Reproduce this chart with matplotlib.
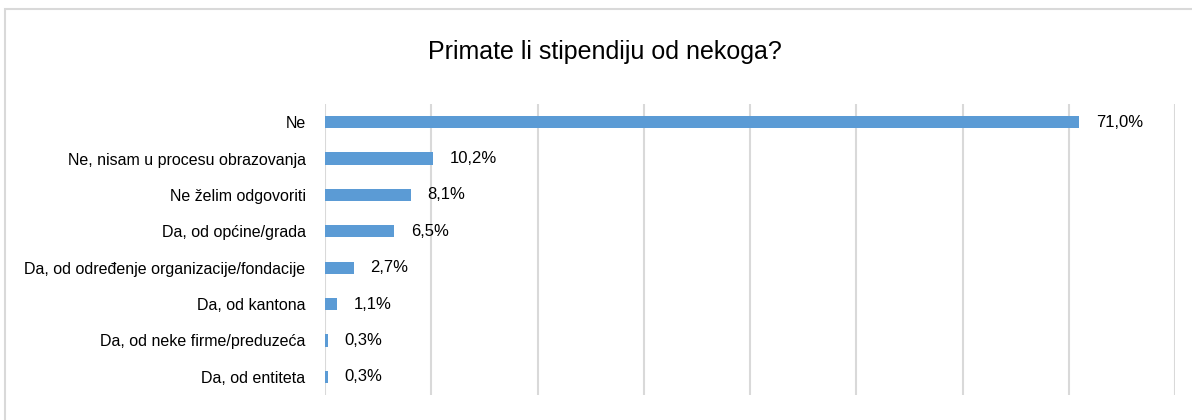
import matplotlib
matplotlib.use("Agg")
import matplotlib.pyplot as plt
from matplotlib.patches import Rectangle

# Data
categories = [
    "Ne",
    "Ne, nisam u procesu obrazovanja",
    "Ne želim odgovoriti",
    "Da, od općine/grada",
    "Da, od određenje organizacije/fondacije",
    "Da, od kantona",
    "Da, od neke firme/preduzeća",
    "Da, od entiteta",
]
values = [71.0, 10.2, 8.1, 6.5, 2.7, 1.1, 0.3, 0.3]
x_ticks = [0, 10, 20, 30, 40, 50, 60, 70, 80]

plt.rcParams["font.family"] = ["Liberation Sans", "DejaVu Sans"]

bar_col = "#5B9BD5"
grid_col = "#D9D9D9"

fig = plt.figure(figsize=(11.92, 4.2), dpi=100)
ax = fig.add_axes([325 / 1192, 25 / 420, 850 / 1192, 291 / 420])

y = list(range(len(categories)))
ax.barh(y, values, height=0.34, color=bar_col, zorder=3)
for yi, v in zip(y, values):
    ax.annotate(f"{v:.1f}%".replace(".", ","), (v, yi), xytext=(12, 0),
                textcoords="offset points", va="center", ha="left",
                fontsize=12, color="black")

ax.set_xlim(0, 80)
ax.set_ylim(len(categories) - 0.5, -0.5)
ax.set_xticks(x_ticks)
ax.set_xticklabels([])
ax.tick_params(axis="x", length=0)
ax.tick_params(axis="y", length=0, pad=14)
ax.set_yticks(y)
ax.set_yticklabels(categories, fontsize=11.5, color="black")
ax.grid(True, axis="x", color=grid_col, linewidth=1.5, zorder=0)
for s in ax.spines.values():
    s.set_visible(False)

fig.text(605 / 1192, 1 - 52 / 420, "Primate li stipendiju od nekoga?", ha="center",
         va="center", fontsize=18, color="black")

# outer frame
fig.patches.append(Rectangle((5 / 1192, -0.1), 1.2, 1 - 9 / 420 + 0.1, transform=fig.transFigure,
                             fill=False, edgecolor="#D9D9D9", linewidth=1.5))

fig.savefig("out.png", dpi=100)
